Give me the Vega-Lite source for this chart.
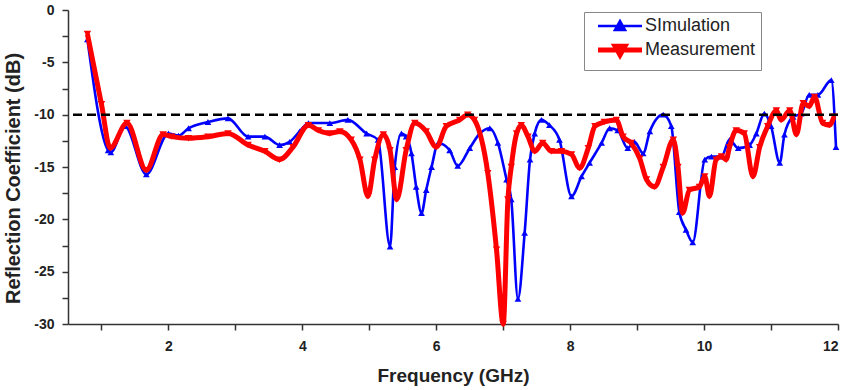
{
  "$schema": "https://vega.github.io/schema/vega-lite/v6.json",
  "autosize": "none",
  "width": 770,
  "height": 314,
  "padding": {"left": 68, "top": 10, "right": 13, "bottom": 66},
  "background": "white",
  "config": {
    "view": {"stroke": null},
    "font": "Liberation Sans",
    "axis": {
      "grid": false,
      "domainColor": "#333",
      "domainWidth": 1.5,
      "tickColor": "#333",
      "tickWidth": 1.5,
      "tickSize": 6,
      "labelFont": "Liberation Sans",
      "labelFontSize": 14,
      "labelFontWeight": "bold",
      "labelColor": "#222",
      "titleFont": "Liberation Sans",
      "titleFontSize": 19,
      "titleFontWeight": "bold",
      "titleColor": "#222"
    }
  },
  "datasets": {
    "sim": [
      {"f": 0.79, "s11": -2.8, "series": "SImulation"},
      {"f": 1.10, "s11": -13.4, "series": "SImulation"},
      {"f": 1.14, "s11": -13.6, "series": "SImulation"},
      {"f": 1.35, "s11": -11.1, "series": "SImulation"},
      {"f": 1.67, "s11": -15.7, "series": "SImulation"},
      {"f": 2.00, "s11": -11.8, "series": "SImulation"},
      {"f": 2.15, "s11": -12.0, "series": "SImulation"},
      {"f": 2.30, "s11": -11.3, "series": "SImulation"},
      {"f": 2.59, "s11": -10.7, "series": "SImulation"},
      {"f": 2.89, "s11": -10.35, "series": "SImulation"},
      {"f": 3.19, "s11": -12.1, "series": "SImulation"},
      {"f": 3.44, "s11": -12.1, "series": "SImulation"},
      {"f": 3.66, "s11": -12.9, "series": "SImulation"},
      {"f": 3.81, "s11": -12.6, "series": "SImulation"},
      {"f": 3.96, "s11": -11.6, "series": "SImulation"},
      {"f": 4.09, "s11": -10.8, "series": "SImulation"},
      {"f": 4.41, "s11": -10.8, "series": "SImulation"},
      {"f": 4.68, "s11": -10.5, "series": "SImulation"},
      {"f": 4.96, "s11": -11.8, "series": "SImulation"},
      {"f": 5.13, "s11": -12.4, "series": "SImulation"},
      {"f": 5.31, "s11": -22.6, "series": "SImulation"},
      {"f": 5.38, "s11": -15.0, "series": "SImulation"},
      {"f": 5.48, "s11": -11.8, "series": "SImulation"},
      {"f": 5.55, "s11": -12.1, "series": "SImulation"},
      {"f": 5.63, "s11": -13.7, "series": "SImulation"},
      {"f": 5.70, "s11": -16.9, "series": "SImulation"},
      {"f": 5.78, "s11": -19.4, "series": "SImulation"},
      {"f": 5.85, "s11": -17.2, "series": "SImulation"},
      {"f": 5.93, "s11": -15.0, "series": "SImulation"},
      {"f": 6.03, "s11": -12.7, "series": "SImulation"},
      {"f": 6.20, "s11": -13.4, "series": "SImulation"},
      {"f": 6.32, "s11": -14.9, "series": "SImulation"},
      {"f": 6.50, "s11": -13.2, "series": "SImulation"},
      {"f": 6.65, "s11": -11.8, "series": "SImulation"},
      {"f": 6.80, "s11": -11.3, "series": "SImulation"},
      {"f": 6.92, "s11": -12.7, "series": "SImulation"},
      {"f": 7.05, "s11": -16.2, "series": "SImulation"},
      {"f": 7.12, "s11": -18.1, "series": "SImulation"},
      {"f": 7.22, "s11": -27.6, "series": "SImulation"},
      {"f": 7.32, "s11": -21.3, "series": "SImulation"},
      {"f": 7.40, "s11": -14.3, "series": "SImulation"},
      {"f": 7.47, "s11": -11.8, "series": "SImulation"},
      {"f": 7.57, "s11": -10.5, "series": "SImulation"},
      {"f": 7.69, "s11": -11.0, "series": "SImulation"},
      {"f": 7.84, "s11": -12.4, "series": "SImulation"},
      {"f": 8.02, "s11": -17.8, "series": "SImulation"},
      {"f": 8.17, "s11": -15.9, "series": "SImulation"},
      {"f": 8.29, "s11": -14.6, "series": "SImulation"},
      {"f": 8.47, "s11": -12.7, "series": "SImulation"},
      {"f": 8.59, "s11": -11.3, "series": "SImulation"},
      {"f": 8.71, "s11": -11.5, "series": "SImulation"},
      {"f": 8.86, "s11": -13.2, "series": "SImulation"},
      {"f": 8.96, "s11": -12.6, "series": "SImulation"},
      {"f": 9.09, "s11": -13.7, "series": "SImulation"},
      {"f": 9.19, "s11": -11.6, "series": "SImulation"},
      {"f": 9.39, "s11": -10.0, "series": "SImulation"},
      {"f": 9.51, "s11": -11.1, "series": "SImulation"},
      {"f": 9.63, "s11": -19.3, "series": "SImulation"},
      {"f": 9.73, "s11": -21.0, "series": "SImulation"},
      {"f": 9.83, "s11": -22.2, "series": "SImulation"},
      {"f": 10.01, "s11": -14.3, "series": "SImulation"},
      {"f": 10.11, "s11": -14.0, "series": "SImulation"},
      {"f": 10.26, "s11": -14.0, "series": "SImulation"},
      {"f": 10.38, "s11": -12.4, "series": "SImulation"},
      {"f": 10.51, "s11": -13.2, "series": "SImulation"},
      {"f": 10.68, "s11": -12.9, "series": "SImulation"},
      {"f": 10.78, "s11": -11.8, "series": "SImulation"},
      {"f": 10.90, "s11": -9.9, "series": "SImulation"},
      {"f": 11.00, "s11": -11.1, "series": "SImulation"},
      {"f": 11.13, "s11": -14.6, "series": "SImulation"},
      {"f": 11.20, "s11": -11.9, "series": "SImulation"},
      {"f": 11.33, "s11": -10.2, "series": "SImulation"},
      {"f": 11.45, "s11": -9.9, "series": "SImulation"},
      {"f": 11.57, "s11": -8.1, "series": "SImulation"},
      {"f": 11.70, "s11": -8.1, "series": "SImulation"},
      {"f": 11.90, "s11": -6.7, "series": "SImulation"},
      {"f": 11.97, "s11": -13.1, "series": "SImulation"}
    ],
    "meas": [
      {"f": 0.79, "s11": -2.3, "series": "Measurement"},
      {"f": 1.00, "s11": -9.0, "series": "Measurement"},
      {"f": 1.13, "s11": -13.2, "series": "Measurement"},
      {"f": 1.38, "s11": -10.8, "series": "Measurement"},
      {"f": 1.67, "s11": -15.3, "series": "Measurement"},
      {"f": 1.92, "s11": -11.9, "series": "Measurement"},
      {"f": 2.05, "s11": -12.1, "series": "Measurement"},
      {"f": 2.30, "s11": -12.25, "series": "Measurement"},
      {"f": 2.59, "s11": -12.1, "series": "Measurement"},
      {"f": 2.89, "s11": -11.8, "series": "Measurement"},
      {"f": 3.19, "s11": -12.9, "series": "Measurement"},
      {"f": 3.44, "s11": -13.5, "series": "Measurement"},
      {"f": 3.66, "s11": -14.3, "series": "Measurement"},
      {"f": 3.86, "s11": -13.1, "series": "Measurement"},
      {"f": 4.09, "s11": -11.0, "series": "Measurement"},
      {"f": 4.24, "s11": -11.5, "series": "Measurement"},
      {"f": 4.41, "s11": -11.8, "series": "Measurement"},
      {"f": 4.56, "s11": -11.6, "series": "Measurement"},
      {"f": 4.73, "s11": -12.4, "series": "Measurement"},
      {"f": 4.86, "s11": -14.3, "series": "Measurement"},
      {"f": 4.98, "s11": -17.8, "series": "Measurement"},
      {"f": 5.08, "s11": -14.3, "series": "Measurement"},
      {"f": 5.21, "s11": -11.9, "series": "Measurement"},
      {"f": 5.31, "s11": -13.4, "series": "Measurement"},
      {"f": 5.41, "s11": -18.1, "series": "Measurement"},
      {"f": 5.55, "s11": -13.4, "series": "Measurement"},
      {"f": 5.68, "s11": -10.8, "series": "Measurement"},
      {"f": 5.85, "s11": -11.6, "series": "Measurement"},
      {"f": 6.00, "s11": -13.1, "series": "Measurement"},
      {"f": 6.15, "s11": -11.1, "series": "Measurement"},
      {"f": 6.35, "s11": -10.5, "series": "Measurement"},
      {"f": 6.47, "s11": -10.0, "series": "Measurement"},
      {"f": 6.57, "s11": -10.5, "series": "Measurement"},
      {"f": 6.77, "s11": -15.6, "series": "Measurement"},
      {"f": 6.90, "s11": -22.9, "series": "Measurement"},
      {"f": 7.00, "s11": -30.0, "series": "Measurement"},
      {"f": 7.07, "s11": -18.1, "series": "Measurement"},
      {"f": 7.12, "s11": -15.0, "series": "Measurement"},
      {"f": 7.20, "s11": -11.8, "series": "Measurement"},
      {"f": 7.27, "s11": -11.0, "series": "Measurement"},
      {"f": 7.37, "s11": -12.1, "series": "Measurement"},
      {"f": 7.47, "s11": -13.5, "series": "Measurement"},
      {"f": 7.59, "s11": -12.7, "series": "Measurement"},
      {"f": 7.72, "s11": -13.5, "series": "Measurement"},
      {"f": 7.87, "s11": -13.5, "series": "Measurement"},
      {"f": 8.02, "s11": -13.8, "series": "Measurement"},
      {"f": 8.14, "s11": -15.1, "series": "Measurement"},
      {"f": 8.27, "s11": -13.2, "series": "Measurement"},
      {"f": 8.37, "s11": -11.1, "series": "Measurement"},
      {"f": 8.51, "s11": -10.7, "series": "Measurement"},
      {"f": 8.69, "s11": -10.5, "series": "Measurement"},
      {"f": 8.79, "s11": -12.1, "series": "Measurement"},
      {"f": 8.91, "s11": -12.7, "series": "Measurement"},
      {"f": 9.04, "s11": -14.2, "series": "Measurement"},
      {"f": 9.14, "s11": -16.2, "series": "Measurement"},
      {"f": 9.26, "s11": -16.9, "series": "Measurement"},
      {"f": 9.39, "s11": -15.0, "series": "Measurement"},
      {"f": 9.54, "s11": -12.4, "series": "Measurement"},
      {"f": 9.61, "s11": -15.0, "series": "Measurement"},
      {"f": 9.68, "s11": -19.4, "series": "Measurement"},
      {"f": 9.78, "s11": -17.2, "series": "Measurement"},
      {"f": 9.93, "s11": -16.9, "series": "Measurement"},
      {"f": 10.01, "s11": -15.9, "series": "Measurement"},
      {"f": 10.08, "s11": -17.8, "series": "Measurement"},
      {"f": 10.18, "s11": -14.3, "series": "Measurement"},
      {"f": 10.26, "s11": -14.0, "series": "Measurement"},
      {"f": 10.33, "s11": -14.3, "series": "Measurement"},
      {"f": 10.38, "s11": -13.1, "series": "Measurement"},
      {"f": 10.48, "s11": -11.5, "series": "Measurement"},
      {"f": 10.60, "s11": -11.8, "series": "Measurement"},
      {"f": 10.73, "s11": -15.9, "series": "Measurement"},
      {"f": 10.83, "s11": -13.1, "series": "Measurement"},
      {"f": 10.95, "s11": -11.1, "series": "Measurement"},
      {"f": 11.08, "s11": -9.6, "series": "Measurement"},
      {"f": 11.15, "s11": -10.5, "series": "Measurement"},
      {"f": 11.28, "s11": -9.6, "series": "Measurement"},
      {"f": 11.38, "s11": -11.9, "series": "Measurement"},
      {"f": 11.48, "s11": -8.9, "series": "Measurement"},
      {"f": 11.57, "s11": -9.2, "series": "Measurement"},
      {"f": 11.65, "s11": -8.3, "series": "Measurement"},
      {"f": 11.77, "s11": -10.8, "series": "Measurement"},
      {"f": 11.87, "s11": -11.0, "series": "Measurement"},
      {"f": 11.94, "s11": -10.2, "series": "Measurement"}
    ],
    "ref": [{"level": -10}]
  },
  "encoding": {
    "x": {
      "field": "f", "type": "quantitative",
      "scale": {"domain": [0.5, 12], "nice": false, "zero": false},
      "axis": {
        "title": "Frequency (GHz)",
        "values": [1,2,3,4,5,6,7,8,9,10,11,12],
        "labelExpr": "datum.value % 2 == 0 ? datum.label : ''",
        "labelPadding": 9,
        "titlePadding": 13
      }
    },
    "y": {
      "field": "s11", "type": "quantitative",
      "scale": {"domain": [-30, 0], "nice": false},
      "axis": {
        "title": "Reflection Coefficient (dB)",
        "values": [0,-2.5,-5,-7.5,-10,-12.5,-15,-17.5,-20,-22.5,-25,-27.5,-30],
        "labelExpr": "datum.value % 5 == 0 ? replace(format(datum.value, 'd'), '\u2212', '-') : ''",
        "labelPadding": 8,
        "titleFontSize": 20,
        "titlePadding": 10,
        "titleY": 168
      }
    }
  },
  "layer": [
    {
      "data": {"name": "sim"},
      "mark": {"type": "line", "interpolate": "monotone", "strokeWidth": 2.6},
      "encoding": {
        "color": {
          "field": "series", "type": "nominal",
          "scale": {"domain": ["SImulation", "Measurement"], "range": ["#0000ff", "#ff0000"]},
          "legend": {
            "title": null,
            "orient": "none",
            "legendX": 516,
            "legendY": 2,
            "padding": 5,
            "rowPadding": 0,
            "strokeColor": "#888",
            "fillColor": "white",
            "cornerRadius": 0,
            "symbolType": "M-2,0H2M0,-0.45L0.45,0.35H-0.45Z",
            "symbolSize": 484,
            "symbolStrokeWidth": 2.6,
            "symbolOffset": 22,
            "labelOffset": 16,
            "labelFont": "Liberation Sans",
            "labelFontSize": 18,
            "labelColor": "#222",
            "encode": {
              "symbols": {
                "update": {
                  "shape": {"signal": "datum.value === 'Measurement' ? 'M-2,0H2M0,0.45L0.45,-0.35H-0.45Z' : 'M-2,0H2M0,-0.45L0.45,0.35H-0.45Z'"},
                  "fill": {"signal": "datum.value === 'Measurement' ? '#ff0000' : '#0000ff'"},
                  "stroke": {"signal": "datum.value === 'Measurement' ? '#ff0000' : '#0000ff'"},
                  "strokeWidth": {"signal": "datum.value === 'Measurement' ? 5 : 2.6"},
                  "opacity": {"value": 1},
                  "fillOpacity": {"value": 1}
                }
              }
            }
          }
        }
      }
    },
    {
      "data": {"name": "sim"},
      "mark": {"type": "point", "shape": "triangle-up", "filled": true, "size": 45, "opacity": 1, "color": "#0000ff"},
      "encoding": {}
    },
    {
      "data": {"name": "meas"},
      "mark": {"type": "line", "interpolate": "monotone", "strokeWidth": 5},
      "encoding": {
        "color": {"field": "series", "type": "nominal"}
      }
    },
    {
      "data": {"name": "meas"},
      "mark": {"type": "point", "shape": "triangle-down", "filled": true, "size": 55, "opacity": 1, "color": "#ff0000"},
      "encoding": {}
    },
    {
      "data": {"name": "ref"},
      "mark": {"type": "rule", "color": "black", "strokeWidth": 2.5, "strokeDash": [9, 5]},
      "encoding": {"y": {"field": "level", "type": "quantitative"}, "x": null}
    }
  ]
}
